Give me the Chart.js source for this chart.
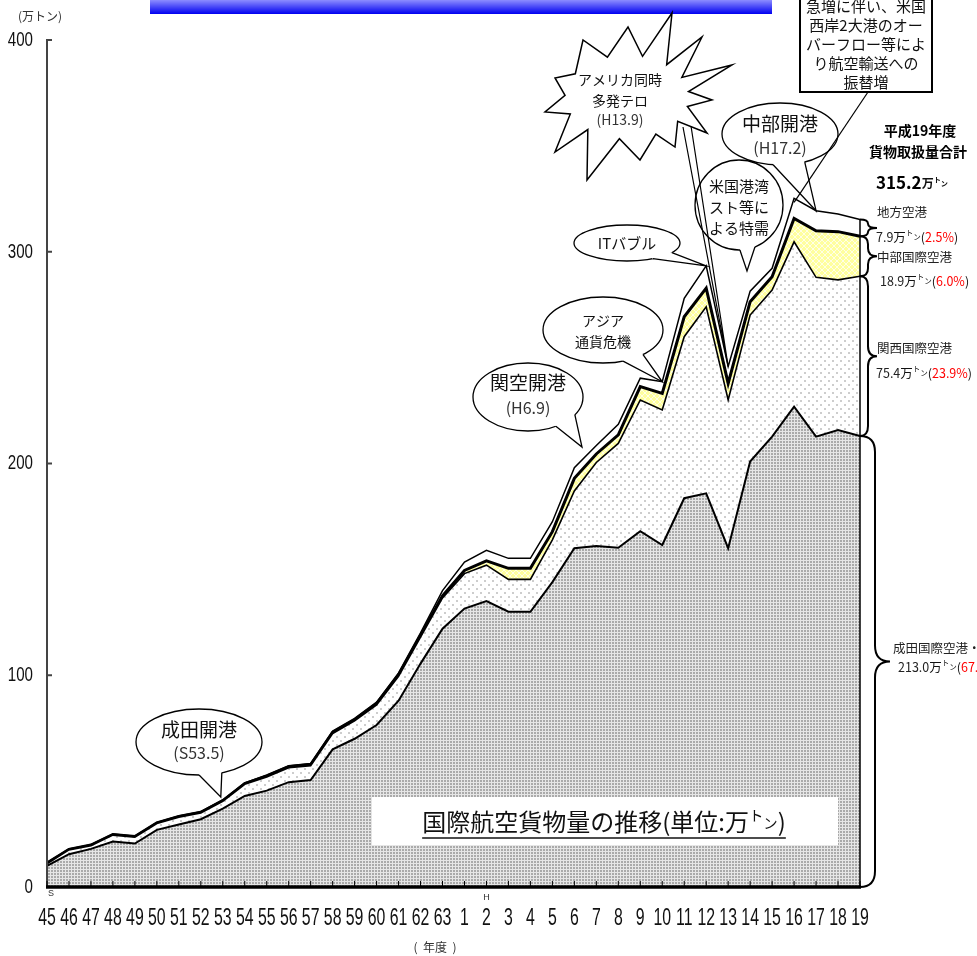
<!DOCTYPE html>
<html lang="ja">
<head>
<meta charset="UTF-8">
<title>国際航空貨物量の推移</title>
<script src="https://cdn.jsdelivr.net/npm/chart.js"></script>
<style>
  html, body { margin: 0; padding: 0; background: #fff; }
  canvas { display: block; }
</style>
</head>
<body>
<canvas id="cargoChart" width="977" height="956"></canvas>
<script>
// 年度 (S45〜S63, H1〜H19)
const years = ['45','46','47','48','49','50','51','52','53','54','55','56','57','58','59','60','61','62','63',
               '1','2','3','4','5','6','7','8','9','10','11','12','13','14','15','16','17','18','19'];
// 取扱量 (万トン), 下から積み上げ
const narita   = [10,15.5,18,21.5,20.5,27,29.5,32,37,43,45.5,49.5,50.5,65,70,76.5,88,105.5,122,
                  131.5,135,130,130,144,160,161,160.2,168,161.5,183.6,185.9,160,200.9,212.7,226.8,212.7,215.8,213.0];
const kansai   = [1,2,1.5,3,3,3,3.5,3,3.5,5.5,6.5,6.8,6.8,7.5,8.5,9.5,11.5,12.5,14.5,
                  16.5,17,15.3,15.3,19.9,27,39.5,49.3,62,63.8,76.3,88.1,70,69.2,69.2,77.9,75.2,70.9,75.4];
const chubu    = [0.3,0.3,0.3,0.3,0.3,0.3,0.3,0.3,0.3,0.3,0.4,0.5,0.5,0.5,0.5,0.6,0.6,0.8,1,
                  1.5,2,5.2,5.2,3.9,6,4,4,6.3,7.8,9.4,8.8,7.8,6.3,6.3,11,22,22.8,18.9];
const regional = [0.2,0.2,0.2,0.2,0.2,0.2,0.2,0.3,0.3,0.4,0.5,0.5,0.5,0.6,0.6,0.7,1,1.2,2.5,
                  4,5,4.7,4.7,4.7,5,4,5,4,5.5,8.7,10.5,8,5,4,9.5,9.5,8.3,7.9];
const yTicks = [0, 100, 200, 300, 400];
const totals = narita.map((v, i) => v + kansai[i] + chubu[i] + regional[i]);

const JP = '"Noto Sans CJK JP", "Noto Sans", sans-serif';
const NUM = '"Liberation Sans", Arial, sans-serif';

const canvas = document.getElementById('cargoChart');
const ctx = canvas.getContext('2d');

function makePattern(size, draw) {
  const c = document.createElement('canvas');
  c.width = c.height = size;
  draw(c.getContext('2d'));
  return ctx.createPattern(c, 'repeat');
}
const naritaFill = makePattern(3, g => {
  g.fillStyle = '#e6e6e6'; g.fillRect(0, 0, 3, 3);
  g.fillStyle = '#aaaaaa'; g.fillRect(0, 0, 2, 2);
});
const kansaiFill = makePattern(8, g => {
  g.fillStyle = '#ffffff'; g.fillRect(0, 0, 8, 8);
  g.fillStyle = '#cdcdcd'; g.fillRect(0, 0, 2, 2); g.fillRect(4, 4, 2, 2);
});
const chubuFill = makePattern(6, g => {
  g.fillStyle = '#ffff9e'; g.fillRect(0, 0, 6, 6);
  g.strokeStyle = '#ffffe6'; g.lineWidth = 1;
  g.beginPath(); g.moveTo(0, 0); g.lineTo(6, 6); g.moveTo(6, 0); g.lineTo(0, 6); g.stroke();
});

// --- drawing helpers ---
function setFont(g, s, b) { g.font = (b ? 'bold ' : '') + s + 'px ' + JP; }
function runs(g, parts, x, y, align) {
  let w = 0;
  parts.forEach(p => { setFont(g, p.s, p.b); p.w = g.measureText(p.t).width; w += p.w; });
  let cx = align === 'center' ? x - w / 2 : x;
  g.textAlign = 'left'; g.textBaseline = 'middle';
  parts.forEach(p => {
    setFont(g, p.s, p.b); g.fillStyle = p.c || '#111';
    g.fillText(p.t, cx, y + (p.dy || 0)); cx += p.w;
  });
  return { x: align === 'center' ? x - w / 2 : x, w };
}
function txt(g, t, x, y, s, c, align, b) { return runs(g, [{ t, s, c, b }], x, y, align || 'center'); }
function ton(s, b) {
  return [{ t: '万', s, b }, { t: 'ト', s: s * 0.6, dy: -s * 0.28, b }, { t: 'ン', s: s * 0.6, dy: s * 0.05, b }];
}
// condensed numerals (tick labels)
function narrow(g, t, x, y, size, sx, align) {
  g.save();
  g.translate(x, y); g.scale(sx, 1);
  g.font = size + 'px ' + NUM; g.fillStyle = '#111';
  g.textAlign = align; g.textBaseline = 'middle';
  g.fillText(t, 0, 0);
  g.restore();
}
function bubble(g, cx, cy, rx, ry, a1, a2, tip) {
  g.save();
  g.lineWidth = 1.3; g.strokeStyle = '#000'; g.fillStyle = '#fff';
  g.beginPath(); g.ellipse(cx, cy, rx, ry, 0, 0, Math.PI * 2); g.fill(); g.stroke();
  const p = (a, k) => [cx + rx * k * Math.cos(a), cy + ry * k * Math.sin(a)];
  const p1 = p(a1, 1), p2 = p(a2, 1), q1 = p(a1, 0.85), q2 = p(a2, 0.85);
  g.beginPath(); g.moveTo(...q1); g.lineTo(...p1); g.lineTo(...tip); g.lineTo(...p2); g.lineTo(...q2);
  g.closePath(); g.fill();
  g.beginPath(); g.moveTo(...p1); g.lineTo(...tip); g.lineTo(...p2); g.stroke();
  g.restore();
}
function wedge(g, b1, b2, tip) {
  g.save();
  g.strokeStyle = '#000'; g.lineWidth = 1.2;
  g.beginPath(); g.moveTo(...b1); g.lineTo(...tip); g.lineTo(...b2); g.stroke();
  g.restore();
}
function star(g, cx, cy, tips, irx, iry) {
  const ang = tips.map(p => Math.atan2(p[1] - cy, p[0] - cx));
  g.save();
  g.beginPath();
  tips.forEach((p, i) => {
    const a1 = ang[i];
    let a2 = ang[(i + 1) % tips.length];
    if (a2 < a1) a2 += Math.PI * 2;
    const m = (a1 + a2) / 2;
    if (i === 0) g.moveTo(p[0], p[1]); else g.lineTo(p[0], p[1]);
    g.lineTo(cx + irx * Math.cos(m), cy + iry * Math.sin(m));
  });
  g.closePath();
  g.fillStyle = '#fff'; g.fill();
  g.strokeStyle = '#000'; g.lineWidth = 1.5; g.stroke();
  g.restore();
}
function brace(g, x0, xv, xt, y1, y2, r) {
  const ym = (y1 + y2) / 2;
  r = Math.min(r, (y2 - y1) / 4);
  g.beginPath();
  g.moveTo(x0, y1);
  g.quadraticCurveTo(xv, y1, xv, y1 + r);
  g.lineTo(xv, ym - r);
  g.quadraticCurveTo(xv, ym, xt, ym);
  g.moveTo(xt, ym);
  g.quadraticCurveTo(xv, ym, xv, ym + r);
  g.lineTo(xv, y2 - r);
  g.quadraticCurveTo(xv, y2, x0, y2);
  g.stroke();
}

const deco = {
  id: 'deco',
  afterDatasetsDraw(chart) {
    const { ctx: g, chartArea: a, scales: { x, y } } = chart;
    const last = years.length - 1;
    const xl = x.getPixelForValue(last);
    g.save();
    // right edge of the areas
    g.strokeStyle = '#000'; g.lineWidth = 1.5;
    g.beginPath(); g.moveTo(xl, y.getPixelForValue(totals[last])); g.lineTo(xl, a.bottom); g.stroke();

    // title box
    g.fillStyle = '#fff'; g.fillRect(372, 797, 466, 48);
    const r = runs(g, [{ t: '国際航空貨物量の推移(単位:', s: 24 }, ...ton(24), { t: ')', s: 24 }], 604, 822, 'center');
    g.strokeStyle = '#111'; g.lineWidth = 1.6;
    g.beginPath(); g.moveTo(r.x, 838); g.lineTo(r.x + r.w, 838); g.stroke();

    // axes
    g.strokeStyle = '#444'; g.lineWidth = 2;
    g.beginPath(); g.moveTo(a.left, a.top - 1); g.lineTo(a.left, a.bottom); g.stroke();
    yTicks.forEach(v => {
      const yy = y.getPixelForValue(v);
      if (v > 0) { g.beginPath(); g.moveTo(a.left, yy); g.lineTo(a.left + 5, yy); g.stroke(); }
      narrow(g, String(v), 33, yy, 21, 0.72, 'right');
    });
    g.strokeStyle = '#000'; g.lineWidth = 1;
    years.forEach((lab, i) => {
      const xx = x.getPixelForValue(i);
      g.beginPath(); g.moveTo(xx, a.bottom); g.lineTo(xx, a.bottom - 6); g.stroke();
      narrow(g, lab, xx, 918, 24, 0.66, 'center');
    });
    g.lineWidth = 3.5;
    g.beginPath(); g.moveTo(a.left - 1, a.bottom); g.lineTo(xl + 1, a.bottom); g.stroke();
    g.restore();
  },
  afterDraw(chart) {
    const { ctx: g, chartArea: a, scales: { x, y } } = chart;
    const px = i => x.getPixelForValue(i);
    const py = v => y.getPixelForValue(v);
    const last = years.length - 1;
    g.save();

    // blue banner
    const gr = g.createLinearGradient(0, 0, 0, 14);
    gr.addColorStop(0, '#8c8cff'); gr.addColorStop(1, '#0000f0');
    g.fillStyle = gr; g.fillRect(150, 0, 622, 14);

    // unit / era labels
    txt(g, '(万トン)', 40, 16, 12, '#333');
    txt(g, '(  年度  )', 435, 947, 12, '#333');
    g.font = '9px ' + NUM; g.fillStyle = '#333'; g.textAlign = 'center'; g.textBaseline = 'middle';
    g.fillText('S', px(0) + 4, a.bottom + 7);
    g.fillText('H', px(20), a.bottom + 11);

    // callouts
    bubble(g, 199, 742, 63, 33, 1.57, 1.2, [px(8) - 2, py(totals[8]) - 3]);
    txt(g, '成田開港', 199, 730, 19);
    txt(g, '(S53.5)', 199, 753, 16, '#333');

    bubble(g, 528, 397, 55, 34, 1.04, 0.55, [582, 447]);
    txt(g, '関空開港', 528, 383, 19);
    txt(g, '(H6.9)', 528, 408, 16, '#333');

    bubble(g, 603, 330, 60, 33, 1.23, 0.84, [px(28), py(totals[28])]);
    txt(g, 'アジア', 603, 321, 14);
    txt(g, '通貨危機', 603, 342, 14);

    bubble(g, 627, 243, 53, 18, 1.06, 0.56, [px(30), py(totals[30])]);
    txt(g, 'ITバブル', 627, 243, 15);

    star(g, 627, 97, [[672, 13], [702, 37], [732, 65], [712, 100], [707, 133], [675, 147], [640, 160],
                      [587, 180], [555, 152], [545, 112], [555, 78], [583, 40], [628, 27]], 62, 42);
    txt(g, 'アメリカ同時', 620, 80, 14);
    txt(g, '多発テロ', 620, 101, 14);
    txt(g, '(H13.9)', 620, 120, 14, '#333');

    bubble(g, 739, 205, 44, 45, 1.55, 1.2, [747, 271]);
    txt(g, '米国港湾', 739, 186, 15);
    txt(g, 'スト等に', 739, 207, 15);
    txt(g, 'よる特需', 739, 228, 15);
    wedge(g, [683, 127], [691, 126], [px(31), py(totals[31])]);

    bubble(g, 780, 134, 58, 31, 1.69, 1.13, [px(35), py(totals[35])]);
    txt(g, '中部開港', 780, 124, 19);
    txt(g, '(H17.2)', 780, 148, 16, '#333');

    // top-right note box
    g.fillStyle = '#fff'; g.strokeStyle = '#000'; g.lineWidth = 2;
    g.fillRect(800, -4, 132, 96); g.strokeRect(800, -4, 132, 96);
    ['急増に伴い、米国', '西岸2大港のオー', 'バーフロー等によ', 'り航空輸送への', '振替増']
      .forEach((t, i) => txt(g, t, 866, 6 + i * 19, 15));
    g.lineWidth = 1.2;
    g.beginPath(); g.moveTo(868, 92); g.lineTo(px(34), py(totals[34]) + 4); g.stroke();

    // totals (H19)
    txt(g, '平成19年度', 920, 131, 14, '#000', 'center', true);
    txt(g, '貨物取扱量合計', 918, 152, 14, '#000', 'center', true);
    runs(g, [{ t: '315.2', s: 17, b: true, c: '#000' }, ...ton(12, true)], 912, 183, 'center');

    // braces with shares
    const c1 = narita[last], c2 = c1 + kansai[last], c3 = c2 + chubu[last], c4 = totals[last];
    const pct = v => (v / c4 * 100).toFixed(1) + '%';
    g.strokeStyle = '#000'; g.lineWidth = 2;
    brace(g, 860, 868, 877, py(c4), py(c3), 5);
    brace(g, 860, 868, 877, py(c3), py(c2), 8);
    brace(g, 860, 868, 877, py(c2), py(c1), 10);
    brace(g, 860, 875, 890, py(c1), py(0), 16);
    const share = (name, v, nx, ny, vx, vy) => {
      txt(g, name, nx, ny, 12.5, '#222', 'left');
      runs(g, [{ t: v.toFixed(1), s: 12.5, c: '#222' }, ...ton(12.5), { t: '(', s: 12.5 },
               { t: pct(v), s: 12.5, c: '#ff0000' }, { t: ')', s: 12.5 }], vx, vy, 'left');
    };
    share('地方空港', regional[last], 877, 212, 876, 237);
    share('中部国際空港', chubu[last], 877, 257, 880, 281);
    share('関西国際空港', kansai[last], 877, 348, 876, 373);
    share('成田国際空港・', narita[last], 893, 648, 898, 667);
    g.restore();
  }
};

new Chart(ctx, {
  type: 'line',
  data: {
    labels: years,
    datasets: [
      { label: '成田国際空港', data: narita, fill: 'origin', backgroundColor: naritaFill, borderColor: '#000', borderWidth: 2 },
      { label: '関西国際空港', data: kansai, fill: '-1', backgroundColor: kansaiFill, borderColor: '#000', borderWidth: 1.6 },
      { label: '中部国際空港', data: chubu, fill: '-1', backgroundColor: chubuFill, borderColor: '#000', borderWidth: 3 },
      { label: '地方空港', data: regional, fill: '-1', backgroundColor: '#ffffff', borderColor: '#000', borderWidth: 1.5 }
    ]
  },
  options: {
    responsive: false,
    animation: false,
    devicePixelRatio: 1,
    elements: { point: { radius: 0 }, line: { tension: 0 } },
    layout: { padding: { top: 40, right: 117, left: 0, bottom: 0 } },
    plugins: { legend: { display: false }, tooltip: { enabled: false } },
    scales: {
      x: {
        grid: { display: false },
        border: { display: false },
        ticks: { display: false, autoSkip: false },
        afterFit: s => { s.height = 69; }
      },
      y: {
        stacked: true,
        min: 0,
        max: 400,
        grid: { display: false },
        border: { display: false },
        ticks: { display: false, stepSize: 100 },
        afterFit: s => { s.width = 47; }
      }
    }
  },
  plugins: [deco]
});
</script>
</body>
</html>
